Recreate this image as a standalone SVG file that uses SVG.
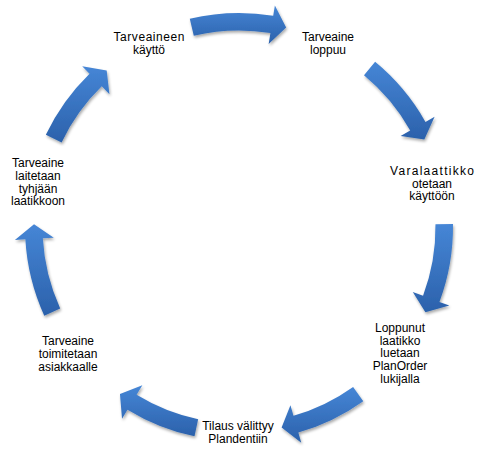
<svg xmlns="http://www.w3.org/2000/svg" width="478" height="449" viewBox="0 0 478 449">
  <style>
    .lbl { font-family: "Liberation Sans", Arial, sans-serif; font-size: 12px; fill: #000; text-anchor: middle; }
    .arrow { fill: url(#arrowFill); }
  </style>
  <defs>
    <linearGradient id="arrowFill" x1="0" y1="0" x2="0" y2="1">
      <stop offset="0" stop-color="#4686d6"/>
      <stop offset="1" stop-color="#2b61ab"/>
    </linearGradient>
    <filter id="shadow" x="-20%" y="-20%" width="140%" height="140%">
      <feGaussianBlur in="SourceAlpha" stdDeviation="1.6"/>
      <feOffset dx="1.2" dy="2" result="blur"/>
      <feComponentTransfer><feFuncA type="linear" slope="0.35"/></feComponentTransfer>
      <feMerge><feMergeNode/><feMergeNode in="SourceGraphic"/></feMerge>
    </filter>
  </defs>

  <!-- curved block arrows around the cycle (centre 239,227) -->
  <g id="connectors" filter="url(#shadow)">
    <path class="arrow" d="M189.77,18.74 A214,214 0 0 1 273.21,15.75 L274.89,5.39 L286.16,27.5 L268.66,43.89 L270.42,33.03 A196.5,196.5 0 0 0 193.8,35.77 Z"/>
    <path class="arrow" d="M375.13,61.87 A214,214 0 0 1 425.45,121.94 L434.6,116.79 L424.34,139.39 L400.62,135.94 L410.2,130.53 A196.5,196.5 0 0 0 363.99,75.37 Z"/>
    <path class="arrow" d="M452.98,224.01 A214,214 0 0 1 439.46,301.95 L449.29,305.62 L425.4,312.34 L412.76,291.97 L423.06,295.82 A196.5,196.5 0 0 0 435.48,224.26 Z"/>
    <path class="arrow" d="M363.28,401.23 A214,214 0 0 1 298.35,432.61 L301.26,442.7 L281.62,427.52 L290.44,405.22 L293.49,415.79 A196.5,196.5 0 0 0 353.11,386.98 Z"/>
    <path class="arrow" d="M194.51,436.32 A214,214 0 0 1 127.5,409.66 L122.03,418.63 L119.95,393.9 L142.35,385.34 L136.62,394.73 A196.5,196.5 0 0 0 198.15,419.21 Z"/>
    <path class="arrow" d="M44.26,315.75 A214,214 0 0 1 25.36,239.32 L14.87,239.92 L34.02,224.14 L53.81,237.68 L42.83,238.31 A196.5,196.5 0 0 0 60.18,308.49 Z"/>
    <path class="arrow" d="M45.84,134.87 A214,214 0 0 1 89.54,73.84 L82.21,66.33 L106.68,70.42 L109.45,94.24 L101.76,86.36 A196.5,196.5 0 0 0 61.64,142.4 Z"/>
  </g>

  <g id="node-kaytto">
    <text class="lbl" x="149" y="40.7" textLength="71" lengthAdjust="spacing">Tarveaineen</text>
    <text class="lbl" x="149" y="53.5">käyttö</text>
  </g>
  <g id="node-loppuu">
    <text class="lbl" x="328" y="40.7">Tarveaine</text>
    <text class="lbl" x="328" y="53.5">loppuu</text>
  </g>
  <g id="node-varalaattikko">
    <text class="lbl" x="432" y="174.7" textLength="84" lengthAdjust="spacing">Varalaattikko</text>
    <text class="lbl" x="432" y="187.5">otetaan</text>
    <text class="lbl" x="432" y="200.3">käyttöön</text>
  </g>
  <g id="node-luetaan">
    <text class="lbl" x="400" y="331.7">Loppunut</text>
    <text class="lbl" x="400" y="344.5">laatikko</text>
    <text class="lbl" x="400" y="357.3">luetaan</text>
    <text class="lbl" x="400" y="370.1">PlanOrder</text>
    <text class="lbl" x="400" y="382.9">lukijalla</text>
  </g>
  <g id="node-tilaus">
    <text class="lbl" x="238" y="429.7">Tilaus välittyy</text>
    <text class="lbl" x="238" y="442.5">Plandentiin</text>
  </g>
  <g id="node-toimitetaan">
    <text class="lbl" x="68" y="345.2">Tarveaine</text>
    <text class="lbl" x="68" y="358">toimitetaan</text>
    <text class="lbl" x="68" y="370.8">asiakkaalle</text>
  </g>
  <g id="node-laatikkoon">
    <text class="lbl" x="38" y="167">Tarveaine</text>
    <text class="lbl" x="38" y="179.8">laitetaan</text>
    <text class="lbl" x="38" y="192.6">tyhjään</text>
    <text class="lbl" x="38" y="205.4">laatikkoon</text>
  </g>
</svg>
